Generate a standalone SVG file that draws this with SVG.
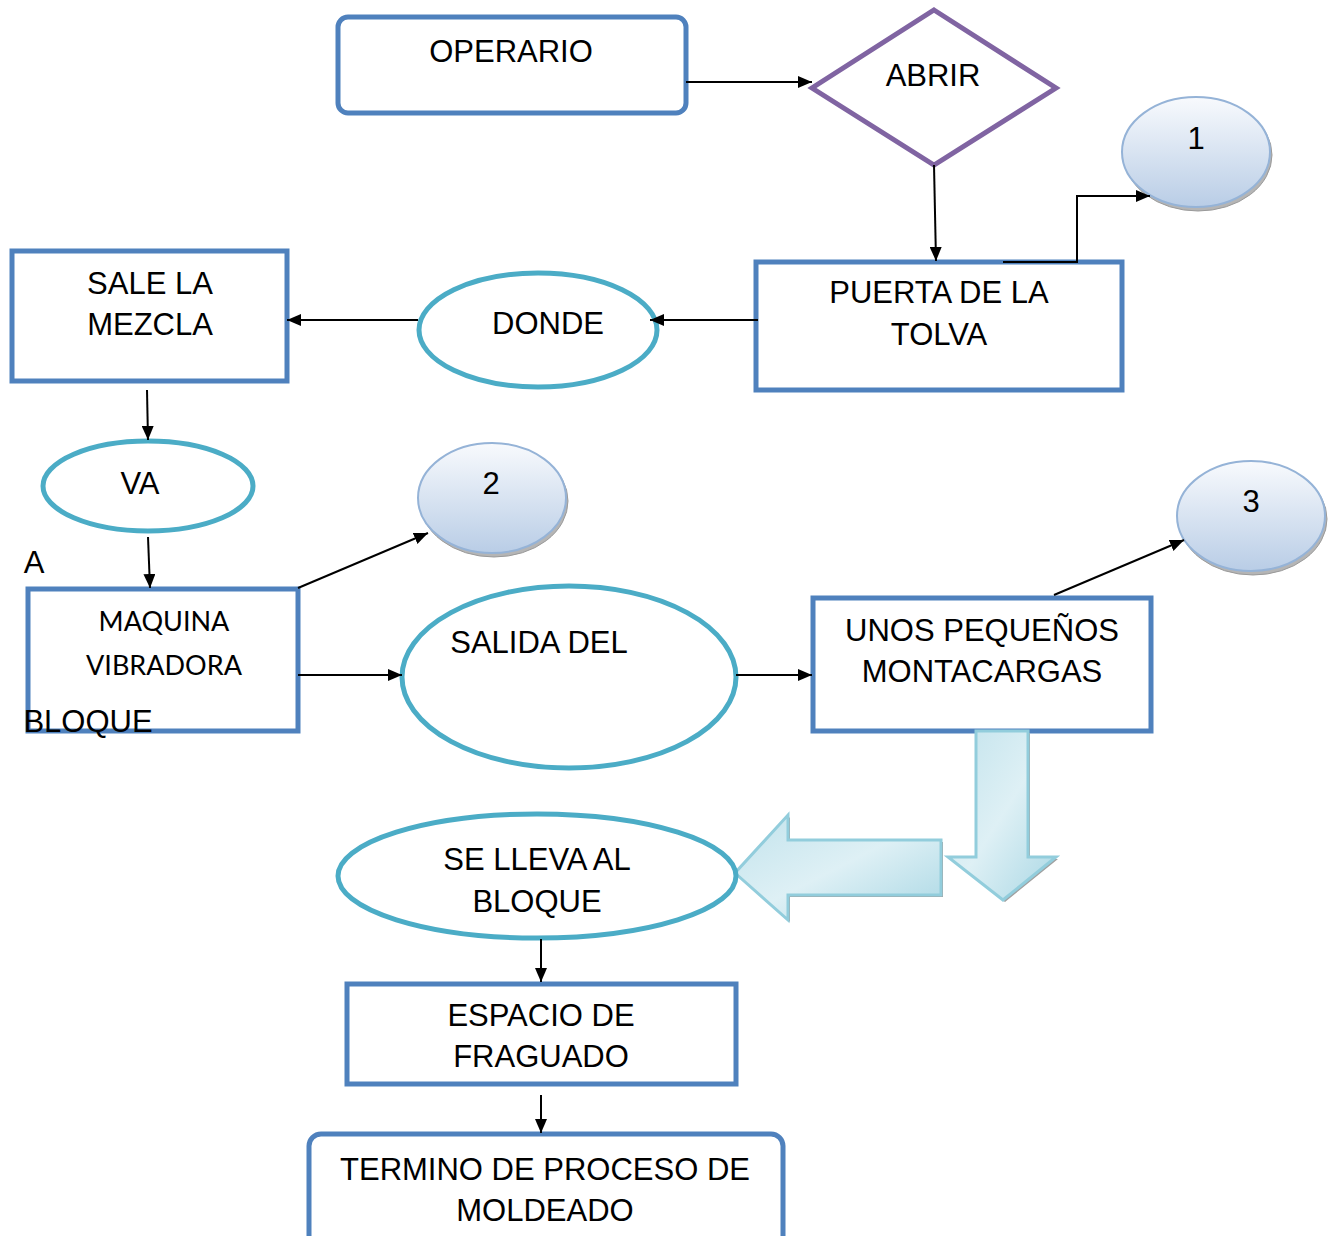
<svg xmlns="http://www.w3.org/2000/svg" width="1336" height="1236" viewBox="0 0 1336 1236">
  <defs>
    <style>
      .box { fill: #ffffff; stroke: #4f81bd; stroke-width: 5; }
      .oval { fill: #ffffff; stroke: #4bacc6; stroke-width: 5; }
      .ball { fill: url(#ballFill); stroke: #95b3d7; stroke-width: 2; }
      .ballShadow { fill: #b5b5b5; stroke: #9a9a9a; stroke-width: 1; }
      .big { fill: url(#arrowFill); stroke: #92cddc; stroke-width: 3; }
      .bigShadow { fill: #a0a0a0; }
      .lbl { font-family: "Liberation Sans", Arial, sans-serif; font-size: 31px; fill: #000000; text-anchor: middle; }
      .lblC { font-family: Lato, "Open Sans", sans-serif; font-size: 27px; fill: #000000; text-anchor: middle; }
      .conn line, .conn polyline { stroke: #000000; stroke-width: 2; fill: none; marker-end: url(#head); }
    </style>
    <linearGradient id="ballFill" x1="0" y1="0" x2="0" y2="1">
      <stop offset="0" stop-color="#f8fafd"/>
      <stop offset="1" stop-color="#b9cde6"/>
    </linearGradient>
    <linearGradient id="arrowFill" x1="0" y1="0" x2="1" y2="1">
      <stop offset="0" stop-color="#c2e3ec"/>
      <stop offset="0.5" stop-color="#def0f5"/>
      <stop offset="1" stop-color="#a9d7e4"/>
    </linearGradient>
    <marker id="head" viewBox="0 0 14 12" refX="14" refY="6" markerWidth="14" markerHeight="12" markerUnits="userSpaceOnUse" orient="auto">
      <path d="M0,0 L14,6 L0,12 z" fill="#000000"/>
    </marker>
  </defs>

  <g id="operario">
    <rect class="box" x="338" y="17" width="348" height="96" rx="10"/>
    <text class="lbl" x="511" y="62">OPERARIO</text>
  </g>

  <g id="abrir">
    <polygon points="934,10 1056,88 934,165 812,88" fill="#ffffff" stroke="#8064a2" stroke-width="5"/>
    <text class="lbl" x="933" y="86">ABRIR</text>
  </g>

  <g id="uno">
    <ellipse class="ballShadow" cx="1198" cy="155" rx="74" ry="56"/>
    <ellipse class="ball" cx="1196" cy="152" rx="74" ry="55"/>
    <text class="lbl" x="1196" y="149">1</text>
  </g>

  <g id="puerta">
    <rect class="box" x="756" y="262" width="366" height="128"/>
    <text class="lbl" x="939" y="303">PUERTA DE LA</text>
    <text class="lbl" x="939" y="345">TOLVA</text>
  </g>

  <g id="donde">
    <ellipse class="oval" cx="538" cy="330" rx="119" ry="57"/>
    <text class="lbl" x="548" y="334">DONDE</text>
  </g>

  <g id="sale">
    <rect class="box" x="12" y="251" width="275" height="130"/>
    <text class="lbl" x="150" y="294">SALE LA</text>
    <text class="lbl" x="150" y="335">MEZCLA</text>
  </g>

  <g id="va">
    <ellipse class="oval" cx="148" cy="486" rx="105" ry="45"/>
    <text class="lbl" x="140" y="494">VA</text>
  </g>

  <g id="maquina">
    <text class="lbl" x="34" y="573">A</text>
    <rect class="box" x="28" y="589" width="270" height="142"/>
    <text class="lblC" x="164" y="631">MAQUINA</text>
    <text class="lblC" x="164" y="675">VIBRADORA</text>
    <text class="lbl" x="88" y="732">BLOQUE</text>
  </g>

  <g id="dos">
    <ellipse class="ballShadow" cx="494" cy="501" rx="74" ry="56"/>
    <ellipse class="ball" cx="492" cy="498" rx="74" ry="55"/>
    <text class="lbl" x="491" y="494">2</text>
  </g>

  <g id="salida">
    <ellipse class="oval" cx="569" cy="677" rx="167" ry="91"/>
    <text class="lbl" x="539" y="653">SALIDA DEL</text>
  </g>

  <g id="montacargas">
    <rect class="box" x="813" y="598" width="338" height="133"/>
    <text class="lbl" x="982" y="641">UNOS PEQUEÑOS</text>
    <text class="lbl" x="982" y="682">MONTACARGAS</text>
  </g>

  <g id="tres">
    <ellipse class="ballShadow" cx="1253" cy="519" rx="74" ry="56"/>
    <ellipse class="ball" cx="1251" cy="516" rx="74" ry="55"/>
    <text class="lbl" x="1251" y="512">3</text>
  </g>

  <g id="flecha-abajo">
    <polygon class="bigShadow" points="979,733 1030,733 1030,859 1058,859 1005,902 950,859 979,859"/>
    <polygon class="big" points="976,731 1028,731 1028,857 1056,857 1003,900 948,857 976,857"/>
  </g>

  <g id="flecha-izquierda">
    <polygon class="bigShadow" points="790,817 790,842 943,842 943,897 790,897 790,922 737,875"/>
    <polygon class="big" points="788,815 788,840 941,840 941,895 788,895 788,920 735,873"/>
  </g>

  <g id="lleva">
    <ellipse class="oval" cx="537" cy="876" rx="199" ry="62"/>
    <text class="lbl" x="537" y="870">SE LLEVA AL</text>
    <text class="lbl" x="537" y="912">BLOQUE</text>
  </g>

  <g id="fraguado">
    <rect class="box" x="347" y="984" width="389" height="100"/>
    <text class="lbl" x="541" y="1026">ESPACIO DE</text>
    <text class="lbl" x="541" y="1067">FRAGUADO</text>
  </g>

  <g id="termino">
    <rect class="box" x="309" y="1134" width="474" height="120" rx="12"/>
    <text class="lbl" x="545" y="1180">TERMINO DE PROCESO DE</text>
    <text class="lbl" x="545" y="1221">MOLDEADO</text>
  </g>

  <!-- connectors, drawn last so heads sit on top of shape outlines -->
  <g id="connectors" class="conn">
    <line x1="686" y1="82" x2="812" y2="82"/>
    <line x1="934" y1="165" x2="936" y2="261"/>
    <polyline points="1003,262 1077,262 1077,196 1150,196"/>
    <line x1="758" y1="320" x2="650" y2="320"/>
    <line x1="418" y1="320" x2="287" y2="320"/>
    <line x1="147" y1="390" x2="148" y2="440"/>
    <line x1="148" y1="537" x2="150" y2="588"/>
    <line x1="298" y1="588" x2="428" y2="533"/>
    <line x1="298" y1="675" x2="402" y2="675"/>
    <line x1="736" y1="675" x2="812" y2="675"/>
    <line x1="1054" y1="595" x2="1184" y2="540"/>
    <line x1="541" y1="939" x2="541" y2="982"/>
    <line x1="541" y1="1095" x2="541" y2="1133"/>
  </g>
</svg>
